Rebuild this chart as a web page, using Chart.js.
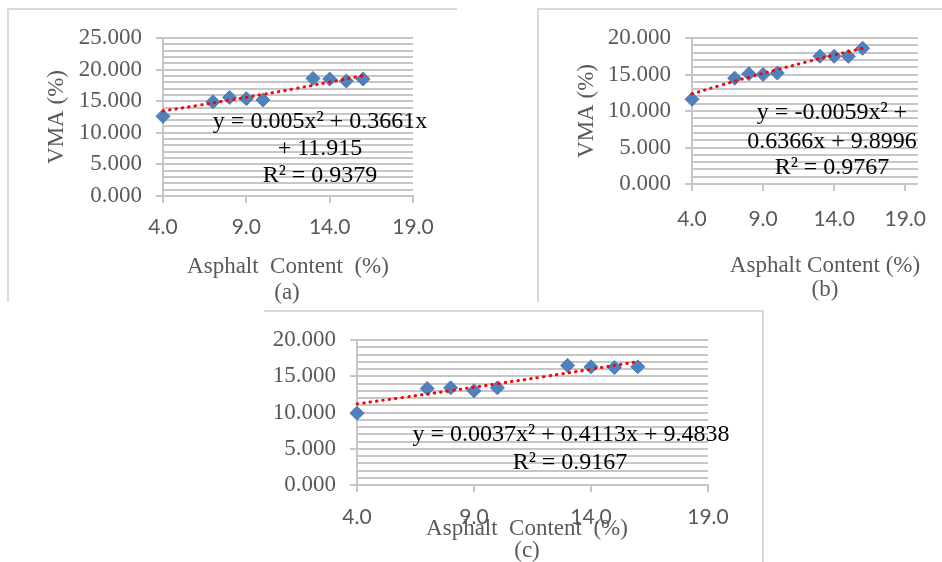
<!DOCTYPE html>
<html>
<head>
<meta charset="utf-8">
<script src="https://cdn.jsdelivr.net/npm/chart.js@4.4.1/dist/chart.umd.min.js"></script>
<style>
  body { margin: 0; background: #fff; width: 942px; height: 562px; position: relative; overflow: hidden; }
  .frame { position: absolute; box-sizing: border-box; }
  #frameA { left: 7px; top: 8px; width: 450px; height: 294px; border-top: 2px solid #d9d9d9; border-left: 2px solid #d9d9d9; }
  #frameB { left: 537px; top: 8px; width: 405px; height: 294px; border-top: 2px solid #d9d9d9; border-left: 2px solid #d9d9d9; }
  #frameC { left: 264px; top: 310px; width: 500px; height: 252px; border-top: 2px solid #d9d9d9; border-right: 2px solid #d9d9d9; }
  canvas { position: absolute; }
  #gridA, #chartA { left: 7px; top: 8px; }
  #gridB, #chartB { left: 537px; top: 8px; }
  #gridC, #chartC { left: 264px; top: 310px; }
</style>
</head>
<body>
<div class="frame" id="frameA"></div>
<div class="frame" id="frameB"></div>
<div class="frame" id="frameC"></div>
<canvas id="gridA" width="450" height="300"></canvas>
<canvas id="gridB" width="405" height="300"></canvas>
<canvas id="gridC" width="499" height="252"></canvas>
<canvas id="chartA" width="450" height="300"></canvas>
<canvas id="chartB" width="405" height="300"></canvas>
<canvas id="chartC" width="499" height="252"></canvas>
<script>
// asphalt content (%) of the samples
const asphaltContent = [4, 7, 8, 9, 10, 13, 14, 15, 16];
// VMA (%)
const vmaA = [12.6, 14.9, 15.6, 15.4, 15.2, 18.6, 18.5, 18.2, 18.5];
const vmaB = [11.6, 14.5, 15.1, 15.0, 15.2, 17.5, 17.5, 17.5, 18.6];
const vmaC = [9.9, 13.3, 13.4, 13.0, 13.4, 16.5, 16.3, 16.2, 16.3];

// polynomial trendline, sampled
const trendX = [4, 6, 8, 10, 12, 14, 16];
const trendA = [13.46, 14.29, 15.16, 16.08, 17.03, 18.02, 19.05];
const trendB = [12.35, 13.51, 14.62, 15.68, 16.69, 17.66, 18.58];
const trendC = [11.19, 12.09, 13.01, 13.97, 14.95, 15.97, 17.01];

const xTicks = [4, 9, 14, 19];
const yTicksA = [0, 5, 10, 15, 20, 25];
const yTicksB = [0, 5, 10, 15, 20];
const yTicksC = [0, 5, 10, 15, 20];
const minorStep = 1;

const equationA = ['y = 0.005x² + 0.3661x', '+ 11.915', 'R² = 0.9379'];
const equationB = ['y = -0.0059x² +', '0.6366x + 9.8996', 'R² = 0.9767'];
const equationC = ['y = 0.0037x² + 0.4113x + 9.4838', 'R² = 0.9167'];

const yTitle = 'VMA (%)';
const xTitleA = 'Asphalt  Content  (%)';
const xTitleB = 'Asphalt Content (%)';
const xTitleC = 'Asphalt  Content  (%)';

const GRID = '#c6c6c6';
const LABEL = '#595959';
const SERIF = "'Liberation Serif', 'Times New Roman', serif";

const areaA = { left: 156, top: 30, right: 406, bottom: 188 };
const areaB = { left: 155, top: 30, right: 381, bottom: 176 };
const areaC = { left: 93, top: 30, right: 444, bottom: 175 };

function toPoints(xs, ys) {
    return xs.map((x, i) => ({ x: x, y: ys[i] }));
}

// draws the free text (axis titles, captions, equations)
const notesPlugin = {
    id: 'notes',
    afterDraw(chart, args, opts) {
        const ctx = chart.ctx;
        (opts.items || []).forEach(t => {
            ctx.save();
            ctx.font = t.font;
            ctx.fillStyle = t.color;
            ctx.textAlign = 'center';
            ctx.textBaseline = 'middle';
            ctx.translate(t.x, t.y);
            if (t.rotate) ctx.rotate(t.rotate);
            ctx.fillText(t.text, 0, 0);
            ctx.restore();
        });
    }
};

// background chart holding only the unit gridlines, same plot area
function makeGrid(id, yTicks, area) {
    const canvas = document.getElementById(id);
    const W = canvas.width, H = canvas.height;
    const yMax = yTicks[yTicks.length - 1];
    return new Chart(canvas, {
        type: 'scatter',
        data: { datasets: [{ data: [] }] },
        options: {
            responsive: false,
            animation: false,
            layout: { padding: { left: 0, top: area.top, right: W - area.right, bottom: 0 } },
            plugins: { legend: { display: false }, tooltip: { enabled: false } },
            scales: {
                x: {
                    type: 'linear',
                    min: xTicks[0],
                    max: xTicks[xTicks.length - 1],
                    afterFit: s => { s.height = H - area.bottom; },
                    grid: { display: false },
                    border: { display: false },
                    ticks: { display: false }
                },
                y: {
                    type: 'linear',
                    min: yTicks[0],
                    max: yMax,
                    afterBuildTicks: s => {
                        const t = [];
                        for (let v = yTicks[0]; v <= yMax; v += minorStep) t.push({ value: v });
                        s.ticks = t;
                    },
                    afterFit: s => { s.width = area.left; },
                    grid: { color: GRID, lineWidth: 2, drawTicks: false },
                    border: { display: false },
                    ticks: { display: false }
                }
            }
        }
    });
}

function makeChart(id, vma, trend, yTicks, area, tickPad, notes) {
    const canvas = document.getElementById(id);
    const W = canvas.width, H = canvas.height;
    return new Chart(canvas, {
        type: 'scatter',
        data: {
            datasets: [{
                type: 'line',
                data: toPoints(trendX, trend),
                borderColor: '#ff0000',
                borderWidth: 3,
                borderDash: [0.5, 6],
                borderCapStyle: 'round',
                pointRadius: 0,
                fill: false,
                tension: 0.4,
                clip: false,
                order: 0
            }, {
                data: toPoints(asphaltContent, vma),
                pointStyle: 'rectRot',
                pointRadius: 7,
                backgroundColor: '#4f81bd',
                borderColor: '#4a7ab4',
                borderWidth: 1,
                clip: false,
                order: 1
            }]
        },
        options: {
            responsive: false,
            animation: false,
            layout: {
                padding: { left: 0, top: area.top, right: W - area.right, bottom: 0 }
            },
            plugins: {
                legend: { display: false },
                tooltip: { enabled: false },
                notes: { items: notes }
            },
            scales: {
                x: {
                    type: 'linear',
                    min: xTicks[0],
                    max: xTicks[xTicks.length - 1],
                    afterBuildTicks: s => { s.ticks = xTicks.map(v => ({ value: v })); },
                    afterFit: s => { s.height = H - area.bottom; },
                    grid: { drawOnChartArea: false, tickLength: 7, tickColor: GRID, lineWidth: 2 },
                    border: { color: GRID, width: 2 },
                    ticks: {
                        padding: tickPad,
                        color: LABEL,
                        font: { family: "Lato, 'Open Sans', sans-serif", size: 21 },
                        callback: v => v.toFixed(1),
                        maxRotation: 0
                    }
                },
                y: {
                    type: 'linear',
                    min: yTicks[0],
                    max: yTicks[yTicks.length - 1],
                    afterBuildTicks: s => { s.ticks = yTicks.map(v => ({ value: v })); },
                    afterFit: s => { s.width = area.left; },
                    grid: { color: GRID, lineWidth: 2, tickLength: 7, tickColor: GRID },
                    border: { color: GRID, width: 2 },
                    ticks: {
                        autoSkip: false,
                        padding: 14,
                        color: LABEL,
                        font: { family: SERIF, size: 23 },
                        callback: v => v.toFixed(3)
                    }
                }
            }
        },
        plugins: [notesPlugin]
    });
}

const eqFont = '24px ' + SERIF;
const titleFont = '23px ' + SERIF;

makeGrid('gridA', yTicksA, areaA);
makeGrid('gridB', yTicksB, areaB);
makeGrid('gridC', yTicksC, areaC);

makeChart('chartA', vmaA, trendA, yTicksA, areaA, 12, [
    { text: yTitle, x: 50, y: 109, rotate: -Math.PI / 2, font: titleFont, color: LABEL },
    { text: equationA[0], x: 313, y: 114, font: eqFont, color: '#000' },
    { text: equationA[1], x: 313, y: 141, font: eqFont, color: '#000' },
    { text: equationA[2], x: 313, y: 168, font: eqFont, color: '#000' },
    { text: xTitleA, x: 281, y: 259, font: titleFont, color: LABEL },
    { text: '(a)', x: 280, y: 285, font: titleFont, color: LABEL }
]);

makeChart('chartB', vmaB, trendB, yTicksB, areaB, 16, [
    { text: yTitle, x: 50, y: 103, rotate: -Math.PI / 2, font: titleFont, color: LABEL },
    { text: equationB[0], x: 295, y: 105, font: eqFont, color: '#000' },
    { text: equationB[1], x: 295, y: 134, font: eqFont, color: '#000' },
    { text: equationB[2], x: 295, y: 160, font: eqFont, color: '#000' },
    { text: xTitleB, x: 288, y: 258, font: titleFont, color: LABEL },
    { text: '(b)', x: 288, y: 282, font: titleFont, color: LABEL }
]);

makeChart('chartC', vmaC, trendC, yTicksC, areaC, 13, [
    { text: equationC[0], x: 307, y: 125, font: eqFont, color: '#000' },
    { text: equationC[1], x: 306, y: 153, font: eqFont, color: '#000' },
    { text: xTitleC, x: 263, y: 219, font: titleFont, color: LABEL },
    { text: '(c)', x: 263, y: 241, font: titleFont, color: LABEL }
]);
</script>
</body>
</html>
